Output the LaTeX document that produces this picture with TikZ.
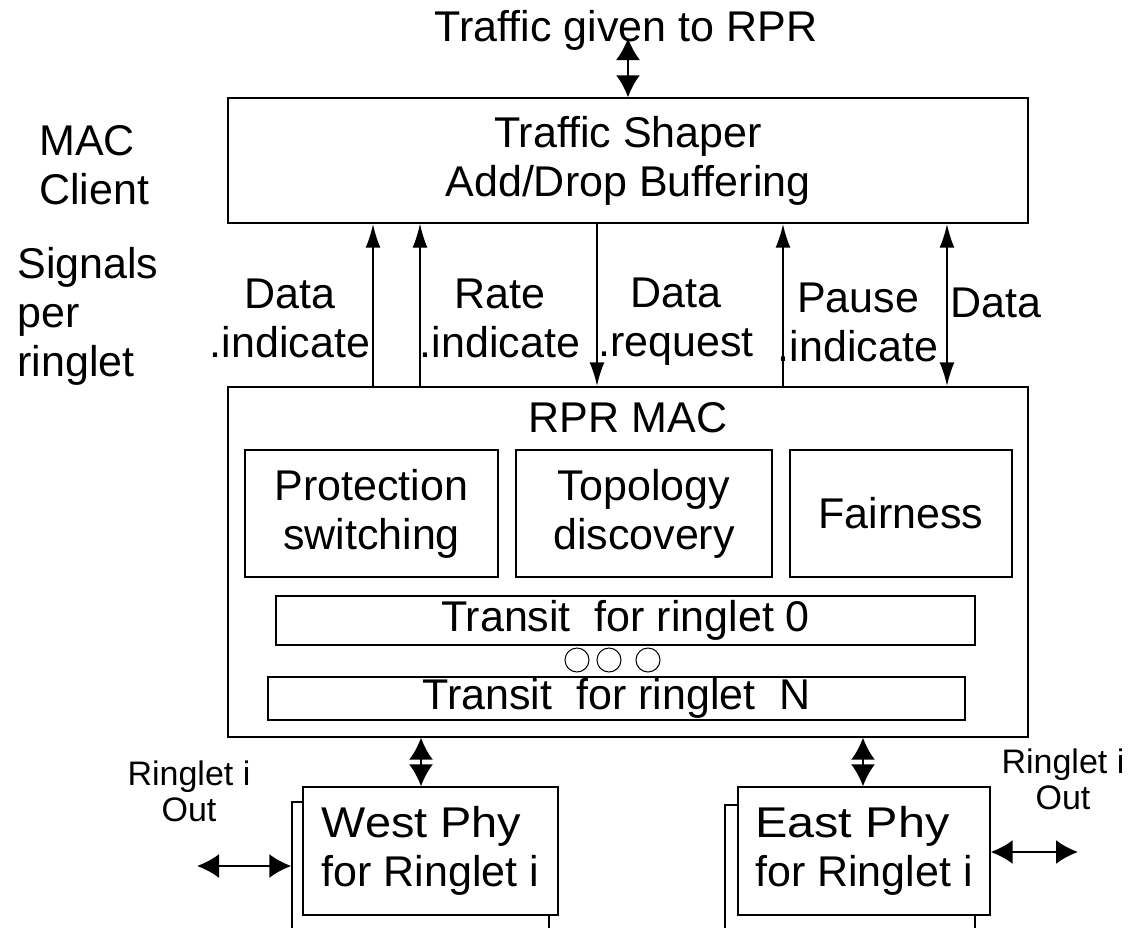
\documentclass[tikz,border=0pt]{standalone}
\usepackage{fontspec}
\usepackage{graphicx}
\setmainfont{Liberation Sans}
\usetikzlibrary{arrows.meta}

\begin{document}
\begin{tikzpicture}[x=0.5pt, y=-0.5pt, font=\fontsize{21.5}{24.5}\selectfont,
    box/.style = {draw, line width=0.7pt, fill=white, inner sep=0pt, align=center},
    lbl/.style = {align=center, inner sep=0pt},
    small/.style = {align=center, inner sep=0pt, font=\fontsize{17}{18}\selectfont},
    sig/.style = {line width=1.1pt, -{Latex[length=12pt,width=7.5pt]}},
    sigboth/.style = {line width=1.1pt, {Latex[length=12pt,width=7.5pt]}-{Latex[length=12pt,width=7.5pt]}},
    link/.style = {line width=1.1pt, {Latex[length=11pt,width=12pt]}-{Latex[length=11pt,width=12pt]}}]
    \useasboundingbox (0,0) rectangle (1132,928);
    \clip (0,0) rectangle (1132,928);

    % client side
    \node[lbl] (traffic) at (626,30) {Traffic given to RPR};
    \node[box, minimum width=400pt, minimum height=62.5pt] (shaper) at (628,160.5) {Traffic Shaper\\Add/Drop Buffering};
    \node[lbl, align=left, anchor=west] (client) at (39,165) {MAC\\Client};
    \node[lbl, align=left, anchor=west] (signals) at (17,316) {Signals\\per\\ringlet};

    % RPR MAC
    \node[box, minimum width=400pt, minimum height=175pt] (mac) at (628,562) {};
    \node[lbl] (mac_t) at (628,418) {RPR MAC};
    \node[box, minimum width=126.5pt, minimum height=63.5pt] (prot) at (371.5,513.5) {Protection\\switching};
    \node[box, minimum width=128pt, minimum height=63.5pt] (topo) at (644,513.5) {Topology\\discovery};
    \node[box, minimum width=111pt, minimum height=63.5pt] (fair) at (901,513.5) {Fairness};
    \node[box, minimum width=349.5pt, minimum height=24.5pt] (tr_0) at (625.5,620.5) {Transit~ for ringlet 0};
    \node[box, minimum width=348.5pt, minimum height=21.5pt] (tr_N) at (616.5,698.5) {Transit~ for ringlet~ N};
    \foreach \x in {577,609,648}
        \draw[line width=0.5pt] (\x,660) circle[radius=6pt];

    % PHYs
    \node[box, minimum width=128.5pt, minimum height=70pt] (west_b) at (420.5,872) {};
    \node[box, align=left, minimum width=127.5pt, minimum height=64pt] (west) at (430.5,851) {\scalebox{1.09}[1]{West Phy}\\for Ringlet i};
    \node[box, minimum width=125pt, minimum height=70pt] (east_b) at (850,875) {};
    \node[box, align=left, minimum width=126pt, minimum height=64pt] (east) at (864,851) {\scalebox{1.13}[1]{East Phy}\\for Ringlet i};
    \node[small] (w_lbl) at (189,791) {Ringlet i\\Out};
    \node[small] (e_lbl) at (1063,779) {Ringlet i\\Out};
    \coordinate (w_out) at (197,866);
    \coordinate (e_out) at (1078,852);
    \coordinate (t_in) at (628,38);

    % signals
    \draw[link] (t_in) -- (shaper.north -| t_in);
    \draw[sig] (mac.north -| 373,0) -- (shaper.south -| 373,0);
    \draw[line width=0.7pt, -{Latex[length=12pt,width=7.5pt]}] (mac.north -| 420,0) -- (shaper.south -| 420,0);
    \draw[sig] (shaper.south -| 597,0) -- (mac.north -| 597,0);
    \draw[sig] (mac.north -| 783,0) -- (shaper.south -| 783,0);
    \draw[sigboth] (mac.north -| 947,0) -- (shaper.south -| 947,0);
    \node[lbl] (l_di) at (290,318) {Data\\.indicate};
    \node[lbl] (l_ri) at (500,318) {Rate\\.indicate};
    \node[lbl] (l_dr) at (676,322) {Data\\.request};
    \node[lbl] (l_pi) at (858,322) {Pause\\.indicate};
    \node[lbl] (l_d) at (996,303) {Data};

    \draw[link] (mac.south -| 421,0) -- (west.north -| 421,0);
    \draw[link] (mac.south -| 863,0) -- (east.north -| 863,0);
    \draw[link] (w_out) -- (west_b.west |- w_out);
    \draw[link] (east.east |- e_out) -- (e_out);
\end{tikzpicture}
\end{document}
